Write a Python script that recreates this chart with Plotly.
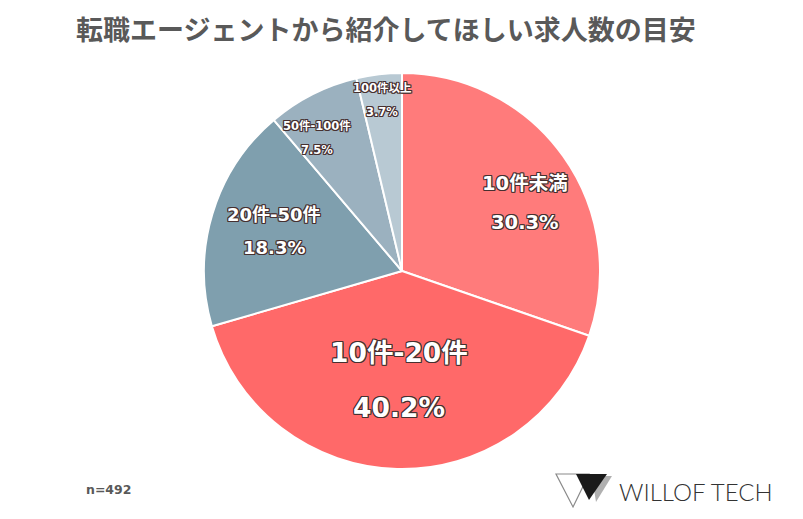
import math
import plotly.graph_objects as go

# ---- data ----
categories = ["10件未満", "10件-20件", "20件-50件", "50件-100件", "100件以上"]
values = [30.3, 40.2, 18.3, 7.5, 3.7]
title_text = "転職エージェントから紹介してほしい求人数の目安"
sample_note = "n=492"
brand_text = "WILLOF TECH"

# ---- style ----
colors = ["#FF7B7B", "#FF6969", "#7F9FAE", "#9BB1BF", "#B8C9D3"]
label_sizes = [19.5, 26.5, 18, 11.5, 11.5]
label_gaps = [39, 55, 33, 24, 24]
label_radius = [0.71, 0.55, 0.677, 0.797, 0.87]
label_angle_offset = [6.4, 0.0, 0.4, -5.8, 0.0]  # degrees
W, H = 803, 519
cx, cy, R = 402, 271, 198  # pixel centre / radius of the pie

dom_x = [(cx - R) / W, (cx + R) / W]
dom_y = [1 - (cy + R) / H, 1 - (cy - R) / H]

fig = go.Figure()
fig.add_trace(go.Pie(
    labels=categories, values=values, sort=False, direction="clockwise",
    rotation=0, marker=dict(colors=colors, line=dict(color="white", width=2)),
    textinfo="none", hoverinfo="label+percent", showlegend=False,
    domain=dict(x=dom_x, y=dom_y),
))

outline = "#463030"
shadow = ", ".join(f"{a}px {b}px 0 {outline}" for a in (-1, 0, 1) for b in (-1, 0, 1) if a or b)
label_font = "DejaVu Sans, Noto Sans CJK JP"

total = sum(values)
cum = 0.0
annotations = []
for cat, v, fs, gap, rf, off in zip(categories, values, label_sizes, label_gaps,
                                     label_radius, label_angle_offset):
    mid = (cum + v / 2) / total * 2 * math.pi + math.radians(off)
    cum += v
    px = cx + rf * R * math.sin(mid)
    py = cy - rf * R * math.cos(mid)
    pct = f"{v / total * 100:.1f}%"
    for txt, shift in ((cat, gap / 2), (pct, -gap / 2)):
        annotations.append(dict(
            x=px / W, y=1 - py / H, xref="paper", yref="paper", showarrow=False,
            text=txt, align="center", xanchor="center", yanchor="middle", yshift=shift,
            font=dict(family=label_font, size=fs, color="white", weight="bold", shadow=shadow),
        ))

annotations.append(dict(
    x=386 / W, y=1 - 29 / H, xref="paper", yref="paper", showarrow=False,
    text=title_text, xanchor="center", yanchor="middle",
    font=dict(family="Noto Sans CJK JP", size=27, color="#595959", weight="bold"),
))
annotations.append(dict(
    x=84 / W, y=1 - 489 / H, xref="paper", yref="paper", showarrow=False,
    text=sample_note, xanchor="left", yanchor="middle",
    font=dict(family="DejaVu Sans", size=12.5, color="#595959", weight="bold"),
))
annotations.append(dict(
    x=617 / W, y=1 - 491 / H, xref="paper", yref="paper", showarrow=False,
    text=brand_text, xanchor="left", yanchor="middle",
    font=dict(family="Lato", size=24, color="#333333", weight=300),
))

def tri(pts):
    return "M " + " L ".join(f"{x / W:.4f},{1 - y / H:.4f}" for x, y in pts) + " Z"

shapes = [
    dict(type="path", xref="paper", yref="paper", path=tri([(556, 474), (589, 474), (573, 507)]),
         line=dict(color="#8a8a8a", width=1.2), fillcolor="rgba(0,0,0,0)"),
    dict(type="path", xref="paper", yref="paper", path=tri([(592, 476), (612, 476), (596, 502)]),
         line=dict(width=0), fillcolor="#b0b0b0"),
    dict(type="path", xref="paper", yref="paper", path=tri([(576, 474), (607, 474), (589, 500)]),
         line=dict(width=0), fillcolor="#1a1a1a"),
]

fig.update_layout(
    width=W, height=H, margin=dict(l=0, r=0, t=0, b=0),
    paper_bgcolor="white", plot_bgcolor="white",
    annotations=annotations, shapes=shapes,
)
fig.write_html("out.html", config={"displayModeBar": False},
               post_script="document.body.style.margin='0';")
